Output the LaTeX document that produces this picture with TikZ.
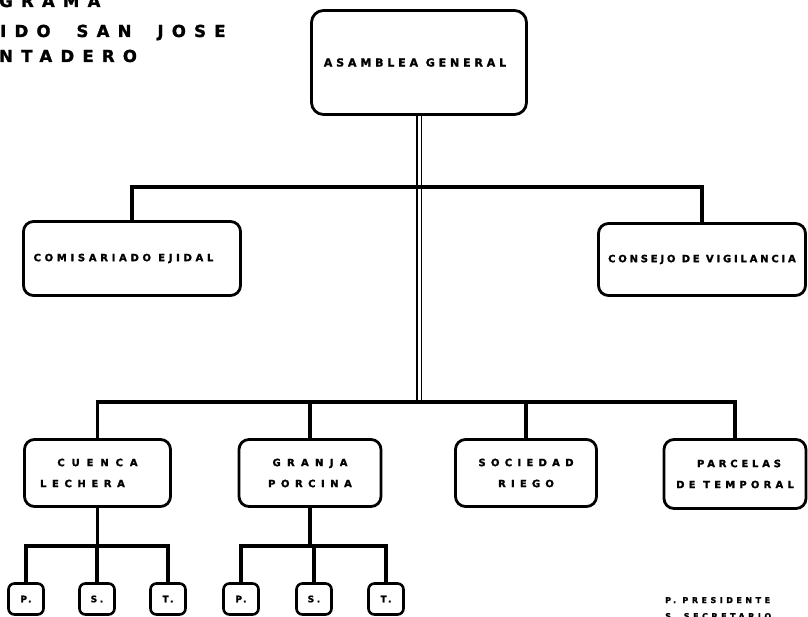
\documentclass[tikz,border=0pt]{standalone}
\usepackage{fontspec}
\newfontfamily\orgfont{DejaVu Sans Bold}[FakeBold=1.6]
\newcommand\spc[2]{{\addfontfeature{LetterSpace=#1}#2}}
\begin{document}
\begin{tikzpicture}[x=1pt,y=-1pt,
  orgbox/.style={draw, line width=2.8pt, rounded corners=10pt, inner sep=0pt, align=center,
    font=\orgfont\fontsize{10}{21}\selectfont},
  subbox/.style={draw, line width=2.6pt, rounded corners=6pt, minimum width=35pt, minimum height=31pt,
    inner sep=0pt, font=\orgfont\fontsize{9}{10}\selectfont},
  conn/.style={line width=3.6pt},
  trunk/.style={double=white, double distance=3pt, line width=1.8pt},
  titletext/.style={anchor=base west, inner sep=0pt, font=\orgfont\fontsize{16.5}{18}\selectfont},
  legendtext/.style={anchor=base west, inner sep=0pt, font=\orgfont\fontsize{8}{9}\selectfont}
]
\useasboundingbox (0,0) rectangle (808,617);
\clip (0,0) rectangle (808,617);

% title (cut off by the picture edge, as in the reference)
\node[titletext] (t1) at (-1,7) {\spc{50}{GRAMA}};
\node[titletext] (t2) at (0,37) {\spc{50}{IDO\hspace{12pt} SAN\hspace{12pt} JOSE}};
\node[titletext] (t3) at (-1,62) {\spc{50}{NTADERO}};

% main boxes
\node[orgbox, minimum width=215pt, minimum height=104pt, rounded corners=12pt,
      font=\orgfont\fontsize{11}{12}\selectfont] (asam) at (419,62.5)
      {\spc{35}{ASAMBLEA GENERAL}\hspace*{8pt}};
\node[orgbox, minimum width=217pt, minimum height=74pt] (comi) at (132,258.5)
      {\raisebox{-4pt}{\spc{37}{COMISARIADO EJIDAL}}\hspace*{17pt}};
\node[orgbox, minimum width=207pt, minimum height=72pt] (cons) at (702,259.5)
      {\raisebox{-3pt}{\spc{28}{CONSEJO DE VIGILANCIA}}};
\node[orgbox, minimum width=146pt, minimum height=67pt] (cuenca) at (97.5,473)
      {\spc{69}{CUENCA}\\\spc{56}{LECHERA}\hspace*{30pt}};
\node[orgbox, minimum width=142pt, minimum height=67pt] (granja) at (310,473)
      {\spc{63}{GRANJA}\\\spc{55}{PORCINA}};
\node[orgbox, minimum width=141pt, minimum height=67pt] (soc) at (526,473)
      {\spc{53}{SOCIEDAD}\\\spc{52}{RIEGO}};
\node[orgbox, minimum width=142pt, minimum height=69pt] (parc) at (735,474)
      {\hspace*{8pt}\spc{38}{PARCELAS}\\\spc{42}{DE TEMPORAL}};

% sub boxes
\node[subbox] (p1) at (26,599) {\spc{30}{P.}};
\node[subbox] (s1) at (97,599) {\spc{30}{S.}};
\node[subbox] (r1) at (168,599) {\spc{30}{T.}};
\node[subbox] (p2) at (241,599) {\spc{30}{P.}};
\node[subbox] (s2) at (314,599) {\spc{30}{S.}};
\node[subbox] (r2) at (386,599) {\spc{30}{T.}};

% bus coordinates
\coordinate (busA) at (419,187);
\coordinate (busB) at (419,402);
\coordinate (sbA) at (97,546);
\coordinate (sbB) at (312,546);

% trunk (double line)
\draw[trunk] (asam.south) -- (asam.south |- busB);

% upper bus
\draw[conn] (comi.north) -- (comi.north |- busA) -- (cons.north |- busA) -- (cons.north);

% lower bus
\draw[conn] (cuenca.north) -- (cuenca.north |- busB) -- (parc.north |- busB) -- (parc.north);
\draw[conn] (granja.north) -- (granja.north |- busB);
\draw[conn] (soc.north) -- (soc.north |- busB);

% sub buses
\draw[conn] (cuenca.south) -- (cuenca.south |- sbA);
\draw[conn] (p1.north) -- (p1.north |- sbA) -- (r1.north |- sbA) -- (r1.north);
\draw[conn] (s1.north) -- (s1.north |- sbA);
\draw[conn] (granja.south) -- (granja.south |- sbB);
\draw[conn] (p2.north) -- (p2.north |- sbB) -- (r2.north |- sbB) -- (r2.north);
\draw[conn] (s2.north) -- (s2.north |- sbB);

% legend
\node[legendtext] (l1) at (665,603) {\spc{44}{P. PRESIDENTE}};
\node[legendtext] (l2) at (665,619) {\spc{44}{S. SECRETARIO}};
\end{tikzpicture}
\end{document}
